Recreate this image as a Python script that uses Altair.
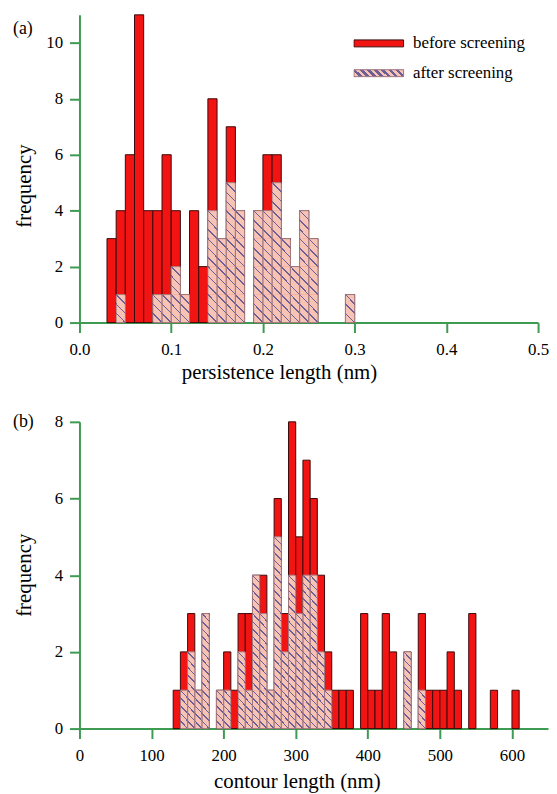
import altair as alt
import pandas as pd

FONT = "Liberation Serif"
RED = "#f21313"
RED_EDGE = "#3c0a0a"
PINK = "#f7c3b4"
HATCH = "#6e5e96"
HATCH_EDGE = "#9c7680"
GREEN = "#3d9b52"

SERIES = ["before screening", "after screening"]

# ---- panel (a): persistence length histogram (bin width 0.01 nm) ----
a_bin_start = [0.03, 0.04, 0.05, 0.06, 0.07, 0.08, 0.09, 0.10, 0.11, 0.12,
               0.13, 0.14, 0.15, 0.16, 0.17, 0.18, 0.19, 0.20, 0.21, 0.22,
               0.23, 0.24, 0.25, 0.26, 0.27, 0.28, 0.29]
a_before = [3, 4, 6, 11, 4, 4, 6, 4, 1, 4,
            2, 8, 3, 7, 4, 0, 4, 6, 6, 3,
            2, 4, 3, 0, 0, 0, 1]
a_after = [0, 1, 0, 0, 0, 1, 1, 2, 1, 0,
           0, 4, 3, 5, 4, 0, 4, 4, 5, 3,
           2, 4, 3, 0, 0, 0, 1]
a_bin_width = 0.01
a_xticks = [0.0, 0.1, 0.2, 0.3, 0.4, 0.5]
a_yticks = [0, 2, 4, 6, 8, 10]

# ---- panel (b): contour length histogram (bin width 10 nm) ----
b_bin_start = [130, 140, 150, 160, 170, 180, 190, 200, 210, 220,
               230, 240, 250, 260, 270, 280, 290, 300, 310, 320,
               330, 340, 350, 360, 370, 380, 390, 400, 410, 420,
               430, 440, 450, 460, 470, 480, 490, 500, 510, 520,
               530, 540, 550, 560, 570, 580, 590, 600]
b_before = [1, 2, 3, 1, 3, 0, 1, 2, 1, 3,
            3, 4, 4, 1, 6, 3, 8, 5, 7, 6,
            4, 2, 1, 1, 1, 0, 3, 1, 1, 3,
            2, 0, 2, 0, 3, 1, 1, 1, 2, 1,
            0, 3, 0, 0, 1, 0, 0, 1]
b_after = [0, 1, 2, 1, 3, 0, 1, 1, 0, 2,
           1, 4, 3, 1, 5, 2, 4, 3, 4, 4,
           2, 1, 0, 0, 0, 0, 0, 0, 0, 0,
           0, 0, 2, 0, 1, 0, 0, 0, 0, 0,
           0, 0, 0, 0, 0, 0, 0, 0]
b_bin_width = 10
b_xticks = [0, 100, 200, 300, 400, 500, 600]
b_yticks = [0, 2, 4, 6, 8]


def hatch_stops(m, n, half):
    N = m + n
    stops = []
    for k in range(N + 1):
        t = k / N
        lo = max(0.0, t - half)
        hi = min(1.0, t + half)
        if k == 0:
            stops += [(0.0, HATCH), (hi, HATCH), (hi, PINK)]
        elif k == N:
            stops += [(lo, PINK), (lo, HATCH), (1.0, HATCH)]
        else:
            stops += [(lo, PINK), (lo, HATCH), (hi, HATCH), (hi, PINK)]
    return stops


def hatch_geom(m, n):
    c = (m + n) / (m * m + n * n)
    return 0.0, 1.0, c * m, 1.0 - c * n


def hatch_gradient(m, n, half):
    x1, y1, x2, y2 = hatch_geom(m, n)
    return alt.LinearGradient(
        gradient="linear", x1=x1, y1=y1, x2=x2, y2=y2,
        stops=[alt.GradientStop(offset=o, color=c) for o, c in hatch_stops(m, n, half)],
    )


def hatch_expr(m, n, half):
    x1, y1, x2, y2 = hatch_geom(m, n)
    st = ",".join("{offset:%.4f,color:'%s'}" % (o, c) for o, c in hatch_stops(m, n, half))
    return "{gradient:'linear',x1:%.4f,y1:%.4f,x2:%.4f,y2:%.4f,stops:[%s]}" % (x1, y1, x2, y2, st)


AXIS_STYLE = dict(
    domainColor=GREEN, domainWidth=2, tickColor=GREEN, tickWidth=2, tickSize=10,
    grid=False, labelFont=FONT, labelFontSize=17, labelColor="black", labelFlush=False,
    titleFont=FONT, titleFontSize=21, titleFontWeight="normal", titleColor="black",
)


def panel(bin_start, before, after, bin_width, xdomain, ydomain, xticks, yticks,
          xfmt, xtitle, tag, w, h, m, n, half, xtitle_x, xtitle_y, ytitle_y, legend):
    bars = pd.DataFrame({"start": bin_start, "before": before, "after": after})
    bars["end"] = bars["start"] + bin_width
    bars["series"] = SERIES[0]
    red = bars[bars["before"] > 0]
    hat = bars[bars["after"] > 0]
    rows = []
    for _, r in hat.iterrows():
        for k in range(int(r["after"])):
            rows.append({"start": r["start"], "end": r["end"], "lo": k, "hi": k + 1})
    blocks = pd.DataFrame(rows)

    xs = alt.Scale(domain=xdomain, nice=False, zero=False)
    ys = alt.Scale(domain=ydomain, nice=False)
    xaxis = alt.Axis(values=xticks, format=xfmt, title=xtitle, titleX=xtitle_x,
                     titleY=xtitle_y, titleBaseline="top", titleAlign="center",
                     labelPadding=9, **AXIS_STYLE)
    yaxis = alt.Axis(values=yticks, title="frequency", titleX=-66, titleY=ytitle_y,
                     titleBaseline="top", titleAngle=-90, titleAlign="center",
                     labelPadding=7, **AXIS_STYLE)

    if legend:
        leg = alt.Legend(title=None, orient="none", legendX=276, legendY=14,
                         symbolType="M-1,-0.14L1,-0.14L1,0.14L-1,0.14Z",
                         symbolSize=2500, symbolStrokeWidth=1, symbolOpacity=1,
                         labelFont=FONT, labelFontSize=17, labelColor="black",
                         labelOffset=9, rowPadding=0, clipHeight=29.5, padding=0)
        fill = alt.Fill("series:N", scale=alt.Scale(
            domain=SERIES, range=[RED, alt.ExprRef(expr=hatch_expr(7, 1, 0.03))]), legend=leg)
        stroke = alt.Stroke("series:N", scale=alt.Scale(
            domain=SERIES, range=[RED_EDGE, HATCH_EDGE]), legend=leg)
    else:
        fill = alt.value(RED)
        stroke = alt.value(RED_EDGE)

    X = alt.X("start:Q", scale=xs, axis=xaxis)
    red_layer = alt.Chart(red).mark_bar(strokeWidth=1).encode(
        x=X, x2="end:Q",
        y=alt.Y("before:Q", scale=ys, axis=yaxis),
        y2=alt.datum(0),
        fill=fill,
        stroke=stroke,
    )
    grad = hatch_gradient(m, n, half)
    hatch_layer = alt.Chart(blocks).mark_bar(fill=grad, stroke=grad, strokeWidth=0.4).encode(
        x=X, x2="end:Q",
        y=alt.Y("lo:Q", scale=ys, axis=yaxis),
        y2="hi:Q",
    )
    edge_layer = alt.Chart(hat).mark_bar(fillOpacity=0, stroke=HATCH_EDGE, strokeWidth=0.8).encode(
        x=X, x2="end:Q",
        y=alt.Y("after:Q", scale=ys, axis=yaxis),
        y2=alt.datum(0),
    )
    tag_layer = alt.Chart(pd.DataFrame({"t": [tag]})).mark_text(
        align="left", baseline="middle", font=FONT, fontSize=18, color="black"
    ).encode(text="t:N", x=alt.value(-67), y=alt.value(14 if tag == "(a)" else 0))

    return alt.layer(red_layer, hatch_layer, edge_layer, tag_layer).properties(width=w, height=h)


pa = panel(a_bin_start, a_before, a_after, a_bin_width, [0, 0.5], [0, 11],
           a_xticks, a_yticks, ".1f", "persistence length (nm)", "(a)",
           462, 310, 1, 3, 0.021, 201, 39, 172, True)
pb = panel(b_bin_start, b_before, b_after, b_bin_width, [0, 650], [0, 8],
           b_xticks, b_yticks, "d", "contour length (nm)", "(b)",
           472, 309, 1, 5, 0.0175, 219, 42, 154, False)

chart = alt.vconcat(pa, pb, spacing=31).properties(
    padding={"left": 5, "top": 3, "right": 0, "bottom": 0}
).configure_view(stroke=None)

chart.save("out.html", embed_options={"renderer": "svg", "actions": False})
